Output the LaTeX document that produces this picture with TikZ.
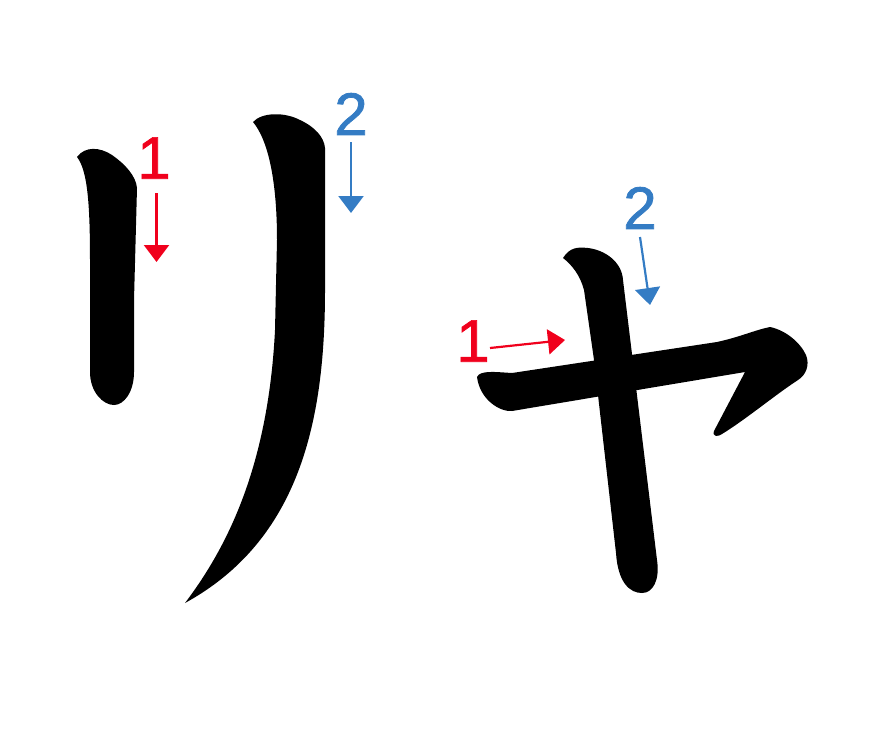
\documentclass[tikz,border=0pt]{standalone}
\usepackage{fontspec}
\setmainfont{Liberation Sans}
\newfontfamily\numfont[FakeBold=1.2]{Liberation Sans}
\usetikzlibrary{arrows.meta}
\definecolor{numred}{RGB}{240,0,28}
\definecolor{numblue}{RGB}{52,124,196}
\tikzset{
  strokeshape/.style={fill=black, draw=none},
  numlabel/.style={inner sep=0pt, font=\numfont\fontsize{60}{60}\selectfont},
  redlabel/.style={numlabel, text=numred},
  bluelabel/.style={numlabel, text=numblue},
  orderarrow/.style={line width=2.2pt, -{Triangle[width=25pt,length=17pt]}},
  redarrow/.style={orderarrow, draw=numred, fill=numred},
  bluearrow/.style={orderarrow, draw=numblue, fill=numblue}
}
\begin{document}
\begin{tikzpicture}[x=1pt,y=-1pt]
\useasboundingbox (0,0) rectangle (880,739);
% ---- リ stroke 1
\fill[strokeshape] (77,157) .. controls (85,146) and (100,147) .. (112,155)
  .. controls (125,164) and (136,176) .. (137,188) -- (134,300) -- (134,372)
  .. controls (134,392) and (124,405) .. (114,405)
  .. controls (103,405) and (90,392) .. (90,372) -- (90,260)
  .. controls (90,200) and (87,170) .. (77,157) -- cycle;
% ---- リ stroke 2
\fill[strokeshape] (253,122) .. controls (262,112) and (285,112) .. (300,120)
  .. controls (315,127) and (324,137) .. (325,148) -- (325,290)
  .. controls (325,420) and (300,540) .. (185,603)
  .. controls (225,550) and (268,470) .. (275,330) -- (277,240)
  .. controls (277,180) and (268,140) .. (253,122) -- cycle;
% ---- ャ stroke 1
\fill[strokeshape] (477,377) .. controls (480,370) and (495,372) .. (512,373)
  -- (717,342) .. controls (740,337) and (755,330) .. (770,327)
  .. controls (785,330) and (800,342) .. (806,355)
  .. controls (810,365) and (806,375) .. (798,380)
  .. controls (775,395) and (745,420) .. (722,434)
  .. controls (718,437) and (712,437) .. (714,431)
  -- (745,372) -- (512,411)
  .. controls (500,412) and (480,400) .. (477,377) -- cycle;
% ---- ャ stroke 2
\fill[strokeshape] (563,258) .. controls (570,247) and (578,247) .. (588,248)
  .. controls (605,250) and (622,262) .. (623,280)
  -- (657,560)
  .. controls (660,580) and (653,593) .. (642,593)
  .. controls (630,593) and (618,583) .. (616,553)
  -- (594,360) -- (584,290)
  .. controls (580,275) and (572,265) .. (563,258) -- cycle;
% ---- numbers
\node[redlabel]  (r1) at (154,158) {1};
\node[bluelabel] (r2) at (351,114) {2};
\node[redlabel]  (y1) at (473,341) {1};
\node[bluelabel] (y2) at (640,208) {2};
% ---- arrows
\coordinate (r1s) at (156.5,193);  \coordinate (r1e) at (156.5,262);
\coordinate (r2s) at (351,142);    \coordinate (r2e) at (351,213);
\coordinate (y1s) at (490,348);    \coordinate (y1e) at (565,340);
\coordinate (y2s) at (640,237);    \coordinate (y2e) at (650,305);
\draw[redarrow]  (r1s) -- (r1e);
\draw[bluearrow] (r2s) -- (r2e);
\draw[redarrow]  (y1s) -- (y1e);
\draw[bluearrow] (y2s) -- (y2e);
\end{tikzpicture}
\end{document}
